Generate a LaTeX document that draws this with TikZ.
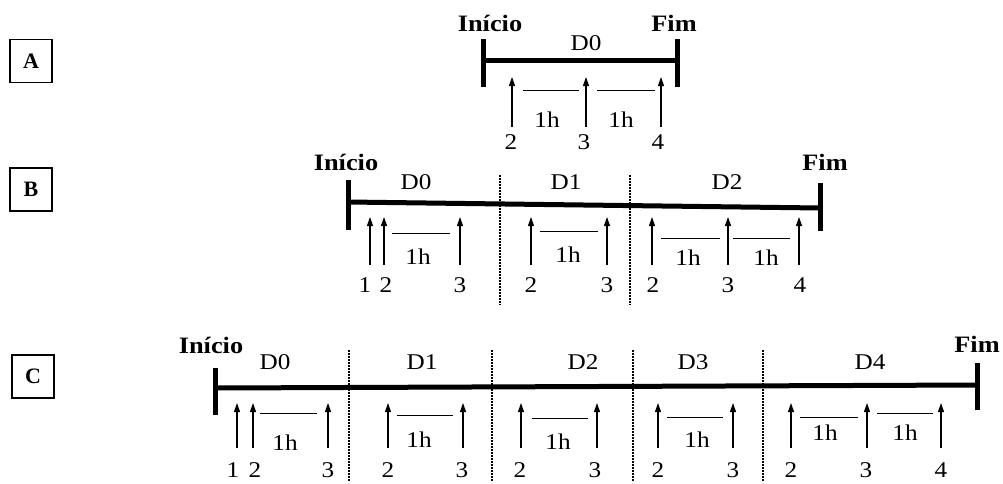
\documentclass[tikz,border=0pt]{standalone}
\usepackage{fontspec}
\setmainfont{Liberation Serif}
\newfontfamily\widefont[FakeStretch=1.12]{Liberation Serif}
\usetikzlibrary{arrows.meta}

% arrow from (x,base) up to (x,tip) with its digit below at (dx,dy)
\newcommand\arrowat[7]{%
  \coordinate (#1t) at (#2,#3);
  \coordinate (#1b) at (#2,#4);
  \node[num] (#1) at (#5,#6) {#7};
  \draw[arr] (#1b) -- (#1t);
}
% one-hour bracket line with its label
\newcommand\hourat[6]{%
  \coordinate (#1l) at (#2,#4);
  \coordinate (#1r) at (#3,#4);
  \draw[hr] (#1l) -- (#1r);
  \node[num] (#1) at (#5,#6) {1h};
}

\begin{document}
\begin{tikzpicture}[x=1pt,y=-1pt,
  num/.style={inner sep=0pt,font=\widefont\fontsize{22.5}{22.5}\selectfont},
  ends/.style={inner sep=0pt,font=\widefont\fontsize{23.5}{23.5}\selectfont\bfseries},
  panel/.style={draw,line width=1.3pt,minimum width=42pt,minimum height=43pt,inner sep=0pt,font=\fontsize{22}{22}\selectfont\bfseries},
  tl/.style={line width=5pt},
  bar/.style={line width=5pt},
  arr/.style={line width=1.1pt,-{Triangle[length=9pt,width=6pt]}},
  hr/.style={line width=1pt},
  sep/.style={line width=2.6pt,dash pattern=on 1.5pt off 1.5pt}]
\useasboundingbox (0,0) rectangle (1003,483);

% panel labels
\node[panel] (pA) at (31,61) {A};
\node[panel] (pB) at (31,189.5) {B};
\node[panel] (pC) at (33,376.5) {C};

% ---------- A ----------
\coordinate (As) at (483,60);
\coordinate (Ae) at (677,60);
\draw[tl] (As) -- (Ae);
\draw[bar] (483,39) -- (483,87);
\draw[bar] (677,39) -- (677,87);
\node[ends] (Ai) at (490,23) {Início};
\node[ends] (Af) at (674,23) {Fim};
\node[num] (AD0) at (586,43) {D0};
\arrowat{Aa1}{512}{77}{127}{511}{142}{2}
\arrowat{Aa2}{586}{77}{127}{584}{142}{3}
\arrowat{Aa3}{661}{77}{127}{658}{142}{4}
\hourat{Ah1}{523}{579}{90}{547}{120}
\hourat{Ah2}{597}{655}{90}{621}{120}

% ---------- B ----------
\coordinate (Bs) at (348,202);
\coordinate (Be) at (820,208);
\draw[tl] (Bs) -- (Be);
\draw[bar] (348,180) -- (348,230);
\draw[bar] (820,183) -- (820,231);
\node[ends] (Bi) at (346,162) {Início};
\node[ends] (Bf) at (825,162) {Fim};
\coordinate (Bd1t) at (500,175); \coordinate (Bd1b) at (500,305);
\coordinate (Bd2t) at (630,175); \coordinate (Bd2b) at (630,305);
\draw[sep] (Bd1t) -- (Bd1b);
\draw[sep] (Bd2t) -- (Bd2b);
\node[num] (BD0) at (416,182) {D0};
\node[num] (BD1) at (566,182) {D1};
\node[num] (BD2) at (727,182) {D2};
\arrowat{Ba1}{370}{217}{265}{365}{285}{1}
\arrowat{Ba2}{384}{217}{265}{386}{285}{2}
\arrowat{Ba3}{460}{217}{265}{460}{285}{3}
\arrowat{Ba4}{531}{217}{265}{531}{285}{2}
\arrowat{Ba5}{607}{217}{265}{607}{285}{3}
\arrowat{Ba6}{652}{217}{265}{653}{285}{2}
\arrowat{Ba7}{728}{217}{265}{728}{285}{3}
\arrowat{Ba8}{799}{217}{265}{800}{285}{4}
\hourat{Bh1}{392}{450}{233}{418}{257}
\hourat{Bh2}{540}{598}{231}{568}{255}
\hourat{Bh3}{661}{720}{238}{688}{258}
\hourat{Bh4}{733}{790}{238}{766}{258}

% ---------- C ----------
\coordinate (Cs) at (215,388);
\coordinate (Ce) at (977,385);
\draw[tl] (Cs) -- (Ce);
\draw[bar] (215,368) -- (215,415);
\draw[bar] (977,363) -- (977,410);
\node[ends] (Ci) at (211,345) {Início};
\node[ends] (Cf) at (977,344) {Fim};
\foreach \n/\x in {1/349,2/492,3/633,4/763}{
  \coordinate (Cd\n t) at (\x,350);
  \coordinate (Cd\n b) at (\x,481);
  \draw[sep] (Cd\n t) -- (Cd\n b);
}
\node[num] (CD0) at (275,362) {D0};
\node[num] (CD1) at (422,362) {D1};
\node[num] (CD2) at (583,362) {D2};
\node[num] (CD3) at (693,362) {D3};
\node[num] (CD4) at (870,362) {D4};
\arrowat{Ca1}{237}{403}{448}{233}{470}{1}
\arrowat{Ca2}{253}{403}{448}{255}{470}{2}
\arrowat{Ca3}{328}{403}{448}{328}{470}{3}
\arrowat{Ca4}{388}{403}{448}{388}{470}{2}
\arrowat{Ca5}{463}{403}{448}{462}{470}{3}
\arrowat{Ca6}{521}{403}{448}{520}{470}{2}
\arrowat{Ca7}{597}{403}{448}{595}{470}{3}
\arrowat{Ca8}{658}{403}{448}{658}{470}{2}
\arrowat{Ca9}{733}{403}{448}{733}{470}{3}
\arrowat{Ca10}{791}{403}{448}{791}{470}{2}
\arrowat{Ca11}{867}{403}{448}{866}{470}{3}
\arrowat{Ca12}{941}{403}{448}{941}{470}{4}
\hourat{Ch1}{260}{317}{413}{285}{443}
\hourat{Ch2}{397}{453}{415}{419}{440}
\hourat{Ch3}{532}{588}{418}{558}{442}
\hourat{Ch4}{667}{723}{417}{697}{440}
\hourat{Ch5}{800}{858}{417}{825}{433}
\hourat{Ch6}{877}{933}{413}{905}{433}
\end{tikzpicture}
\end{document}
